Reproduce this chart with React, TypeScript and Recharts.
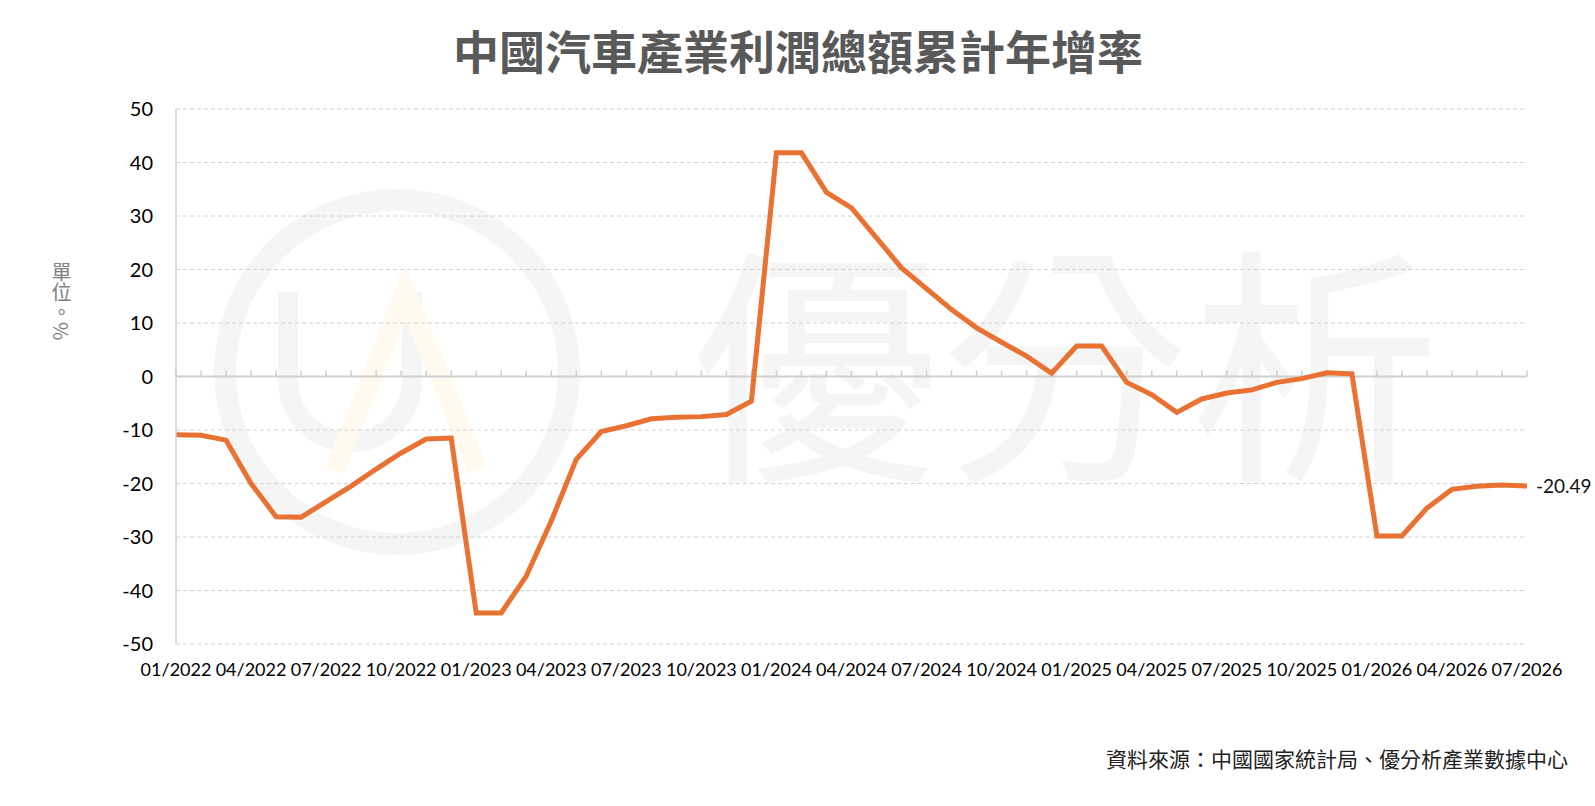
import React from 'react';
import { LineChart, Line, XAxis, YAxis, CartesianGrid, ReferenceLine, LabelList } from 'recharts';

// monthly categories, 01/2022 .. 07/2026
const MONTHS = [
  '01/2022', '02/2022', '03/2022', '04/2022', '05/2022', '06/2022', '07/2022', '08/2022', '09/2022', '10/2022', '11/2022', '12/2022',
  '01/2023', '02/2023', '03/2023', '04/2023', '05/2023', '06/2023', '07/2023', '08/2023', '09/2023', '10/2023', '11/2023', '12/2023',
  '01/2024', '02/2024', '03/2024', '04/2024', '05/2024', '06/2024', '07/2024', '08/2024', '09/2024', '10/2024', '11/2024', '12/2024',
  '01/2025', '02/2025', '03/2025', '04/2025', '05/2025', '06/2025', '07/2025', '08/2025', '09/2025', '10/2025', '11/2025', '12/2025',
  '01/2026', '02/2026', '03/2026', '04/2026', '05/2026', '06/2026', '07/2026',
];

// cumulative YoY growth of total profit (%)
const GROWTH = [
  -10.9, -11.0, -11.9, -20.0, -26.2, -26.3, -23.4, -20.5, -17.3, -14.3, -11.7, -11.5,
  -44.2, -44.2, -37.3, -27.0, -15.5, -10.3, -9.2, -7.9, -7.6, -7.5, -7.1, -4.6,
  41.8, 41.8, 34.4, 31.5, 25.9, 20.3, 16.4, 12.5, 9.1, 6.4, 3.8, 0.6,
  5.7, 5.7, -1.1, -3.4, -6.7, -4.2, -3.1, -2.5, -1.1, -0.4, 0.7, 0.5,
  -29.8, -29.8, -24.6, -21.1, -20.5, -20.3, -20.49,
];

const Y_TICKS = [50, 40, 30, 20, 10, 0, -10, -20, -30, -40, -50];

const data = MONTHS.map((month, i) => ({ month, value: GROWTH[i] }));
const LAST = data.length - 1;

const ORANGE = '#E97132';
const NUM_FONT = 'Lato, "Liberation Sans", sans-serif';
const CJK_FONT = '"Noto Sans CJK TC", "Noto Sans CJK SC", sans-serif';

const EndLabel = (props: any) => {
  const { x, y, value, index } = props;
  if (index !== LAST || x == null) return null;
  return (
    <text x={x + 9} y={y} dy={7} fontSize={19} fill="#111" fontFamily={NUM_FONT}>
      {Number(value).toFixed(2)}
    </text>
  );
};

const Watermark = () => (
  <svg width={1595} height={806} style={{ position: 'absolute', left: 0, top: 0 }}>
    <circle cx={397} cy={372} r={172} fill="none" stroke="#f5f5f5" strokeWidth={22} />
    <path d="M288 292 L288 380 A62 62 0 0 0 412 380 L412 292" fill="none" stroke="#f5f5f5" strokeWidth={20} />
    <path d="M335 470 L405 292 L478 470" fill="none" stroke="#fff9f0" strokeWidth={20} />
    <text x={690} y={462} fontSize={250} fill="#f5f5f5" fontFamily={CJK_FONT}>
      優分析
    </text>
  </svg>
);

export default function App() {
  return (
    <div style={{ position: 'absolute', left: 0, top: 0, width: 1595, height: 806, background: '#fff', overflow: 'hidden' }}>
      <Watermark />
      <div
        style={{
          position: 'absolute', left: 798, top: 24, transform: 'translateX(-50%)', whiteSpace: 'nowrap',
          fontSize: 46, lineHeight: '50px', fontWeight: 700, color: '#595959', fontFamily: CJK_FONT,
        }}
      >
        中國汽車產業利潤總額累計年增率
      </div>
      <div
        style={{
          position: 'absolute', left: 50, top: 262, writingMode: 'vertical-rl',
          fontSize: 20, lineHeight: '22px', color: '#808080', fontFamily: CJK_FONT,
        }}
      >
        單位。%
      </div>
      <div style={{ position: 'absolute', left: 0, top: 0 }}>
        <LineChart width={1595} height={806} data={data} margin={{ top: 109, right: 68, bottom: 122, left: 100 }}>
          <CartesianGrid vertical={false} stroke="#d2d2d2" strokeDasharray="4 3" />
          <XAxis
            dataKey="month"
            interval={2}
            axisLine={false}
            tickLine={false}
            tickSize={0}
            tickMargin={19}
            height={40}
            tick={{ fontSize: 18, fill: '#000', fontFamily: NUM_FONT }}
          />
          <YAxis
            domain={[-50, 50]}
            ticks={Y_TICKS}
            interval={0}
            width={76}
            tickLine={false}
            tickSize={0}
            tickMargin={23}
            axisLine={{ stroke: '#d0d0d0', strokeWidth: 1.5 }}
            tick={{ fontSize: 20, fill: '#000', fontFamily: NUM_FONT }}
          />
          <ReferenceLine y={0} stroke="#cfcfcf" strokeWidth={2} />
          {MONTHS.map((m) => (
            <ReferenceLine key={m} segment={[{ x: m, y: 0 }, { x: m, y: 1.1 }]} stroke="#cfcfcf" strokeWidth={1.5} />
          ))}
          <Line
            type="linear"
            dataKey="value"
            stroke={ORANGE}
            strokeWidth={5}
            dot={false}
            activeDot={false}
            isAnimationActive={false}
          >
            <LabelList dataKey="value" content={EndLabel} />
          </Line>
        </LineChart>
      </div>
      <div
        style={{
          position: 'absolute', right: 27, top: 745, whiteSpace: 'nowrap',
          fontSize: 21, lineHeight: '26px', color: '#222', fontFamily: CJK_FONT,
        }}
      >
        資料來源：中國國家統計局、優分析產業數據中心
      </div>
    </div>
  );
}
